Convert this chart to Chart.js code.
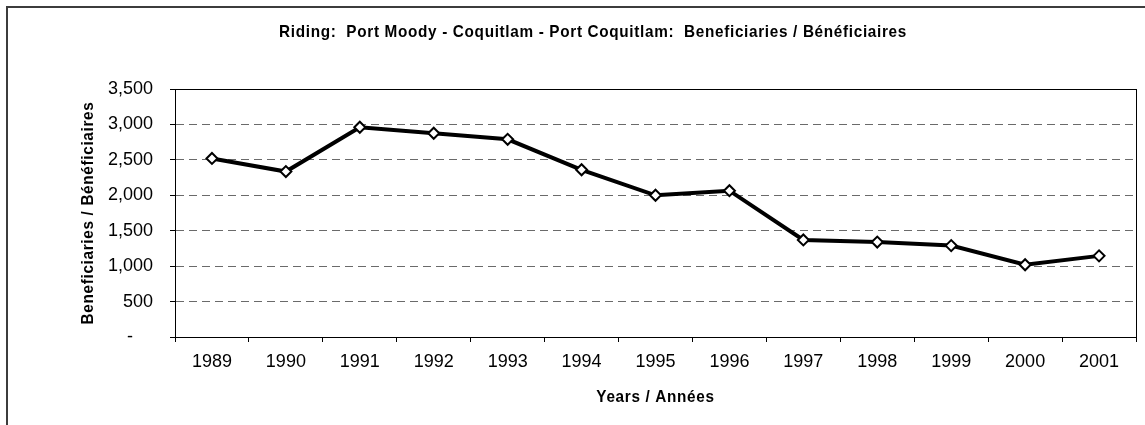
<!DOCTYPE html>
<html>
<head>
<meta charset="utf-8">
<script src="https://cdn.jsdelivr.net/npm/chart.js@4/dist/chart.umd.min.js"></script>
<style>
  html, body { margin: 0; padding: 0; background: #ffffff; }
  canvas { display: block; }
</style>
</head>
<body>
<canvas id="c" width="1145" height="425"></canvas>
<script>
// ---- data ----
const years = ['1989','1990','1991','1992','1993','1994','1995','1996','1997','1998','1999','2000','2001'];
const beneficiaries = [2520, 2335, 2960, 2875, 2790, 2360, 2000, 2065, 1370, 1340, 1290, 1020, 1145];
const yTickValues = [0, 500, 1000, 1500, 2000, 2500, 3000, 3500];
const chartTitle = 'Riding:  Port Moody - Coquitlam - Port Coquitlam:  Beneficiaries / Bénéficiaires';
const yTitle = 'Beneficiaries / Bénéficiaires';
const xTitle = 'Years / Années';

const REG = "'Liberation Sans', Arial, sans-serif";

function narrowText(ctx, text, x, y, rot) {
  ctx.save();
  ctx.translate(x, y);
  if (rot) ctx.rotate(rot);
  ctx.scale(0.9, 1);
  ctx.fillText(text, 0, 0);
  ctx.restore();
}

const decor = {
  id: 'decor',
  beforeDraw(chart) {
    const ctx = chart.ctx;
    ctx.save();
    ctx.fillStyle = '#ffffff';
    ctx.fillRect(0, 0, chart.width, chart.height);
    ctx.restore();
  },
  afterDraw(chart) {
    const ctx = chart.ctx;
    const a = chart.chartArea;
    ctx.save();
    // outer frame (only top and left visible)
    ctx.strokeStyle = '#3c3c3c';
    ctx.lineWidth = 2;
    ctx.beginPath();
    ctx.moveTo(7, chart.height + 5);
    ctx.lineTo(7, 7);
    ctx.lineTo(chart.width + 5, 7);
    ctx.stroke();
    // plot frame
    ctx.strokeStyle = '#000000';
    ctx.lineWidth = 1;
    ctx.strokeRect(Math.round(a.left) + 0.5, Math.round(a.top) + 0.5,
                   Math.round(a.right - a.left), Math.round(a.bottom - a.top));
    // titles
    ctx.fillStyle = '#000000';
    ctx.font = 'bold 17px ' + REG;
    ctx.letterSpacing = '0.75px';
    ctx.textAlign = 'center';
    ctx.textBaseline = 'middle';
    narrowText(ctx, chartTitle, 593, 32);
    narrowText(ctx, xTitle, (a.left + a.right) / 2, 397);
    narrowText(ctx, yTitle, 88, (a.top + a.bottom) / 2, -Math.PI / 2);
    ctx.restore();
  }
};

new Chart(document.getElementById('c'), {
  type: 'line',
  data: {
    labels: years,
    datasets: [{
      data: beneficiaries,
      borderColor: '#000000',
      borderWidth: 4,
      pointStyle: 'rectRot',
      pointRadius: 5.5,
      pointBorderWidth: 2,
      pointBackgroundColor: '#ffffff',
      pointBorderColor: '#000000',
      tension: 0
    }]
  },
  options: {
    responsive: false,
    animation: false,
    devicePixelRatio: 1,
    layout: { padding: { left: 0, top: 89, right: 9, bottom: 0 } },
    plugins: { legend: { display: false }, title: { display: false }, tooltip: { enabled: false } },
    scales: {
      x: {
        type: 'category',
        offset: true,
        afterFit(s) { s.height = 88; },
        grid: {
          offset: true,
          drawOnChartArea: false,
          drawTicks: true,
          tickLength: 5,
          tickColor: '#000000',
          color: '#000000'
        },
        border: { display: true, color: '#000000', width: 1 },
        ticks: {
          color: '#000000',
          font: { family: REG, size: 18 },
          padding: 9,
          maxRotation: 0,
          autoSkip: false
        }
      },
      y: {
        min: 0,
        max: 3500,
        afterFit(s) { s.width = 175; },
        afterBuildTicks(s) { s.ticks = yTickValues.map(v => ({ value: v })); },
        grid: {
          drawTicks: true,
          tickLength: 5,
          tickColor: '#000000',
          tickBorderDash: [],
          color: (c) => (c.tick && (c.tick.value === 0 || c.tick.value === 3500)) ? 'rgba(0,0,0,0)' : '#6a6a6a',
          lineWidth: 1
        },
        border: { display: true, color: '#000000', width: 1, dash: [8, 5] },
        ticks: {
          color: '#000000',
          font: { family: REG, size: 18 },
          padding: 17,
          callback: (v) => v === 0 ? '-    ' : v.toLocaleString('en-US')
        }
      }
    }
  },
  plugins: [decor]
});
</script>
</body>
</html>
